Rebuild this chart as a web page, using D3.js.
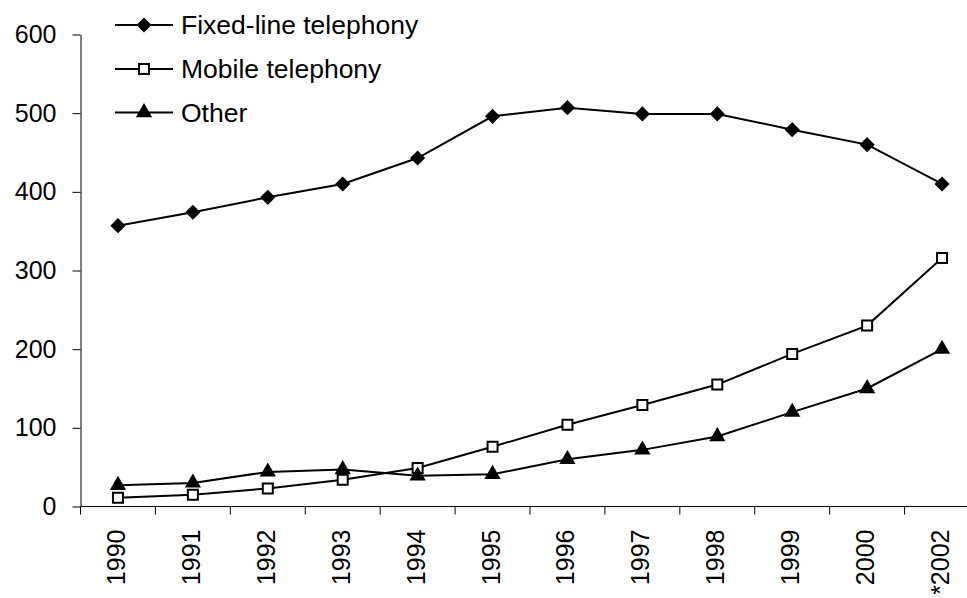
<!DOCTYPE html>
<html>
<head>
<meta charset="utf-8">
<script src="https://cdn.jsdelivr.net/npm/d3@7"></script>
<style>
  html, body { margin: 0; padding: 0; background: #fff; overflow: hidden; }
  svg { display: block; }
  text { font-family: "Liberation Sans", Arial, sans-serif; fill: #000; }
</style>
</head>
<body>
<svg id="chart" width="967" height="598"></svg>
<script>
const categories = ["1990","1991","1992","1993","1994","1995","1996","1997","1998","1999","2000","*2002"];
const fixedLine = [357, 374, 393, 410, 443, 496, 507, 499, 499, 479, 460, 410];
const mobile    = [11, 15, 23, 34, 49, 76, 104, 129, 155, 194, 230, 316];
const other     = [27, 30, 44, 47, 39, 41, 60, 72, 89, 120, 150, 200];
const yTicks = [0, 100, 200, 300, 400, 500, 600];
const seriesNames = ["Fixed-line telephony", "Mobile telephony", "Other"];

const series = [
  { name: seriesNames[0], values: fixedLine, symbol: d3.symbolSquare,  rot: 45, size: 115, fill: "#000", stroke: "none" },
  { name: seriesNames[1], values: mobile,    symbol: d3.symbolSquare,  rot: 0,  size: 100, fill: "#fff", stroke: "#000" },
  { name: seriesNames[2], values: other,     symbol: d3.symbolTriangle, rot: 0, size: 115, fill: "#000", stroke: "none" }
];

const svg = d3.select("#chart");
const mLeft = 80.5, mRight = 979.5, mTop = 34.5, mBottom = 506.5;
const fs = 25;

const x = d3.scaleBand().domain(categories).range([mLeft, mRight]).padding(0);
const y = d3.scaleLinear().domain([0, 600]).range([mBottom, mTop]);

// Y axis
const yAxis = svg.append("g").attr("transform", `translate(${mLeft},0)`)
  .call(d3.axisLeft(y).tickValues(yTicks).tickSize(8).tickPadding(16).tickSizeOuter(0));
yAxis.selectAll("path, line").attr("stroke", "#000").attr("stroke-width", 1);
yAxis.selectAll("text").style("font-size", fs + "px").attr("font-family", null);

// X axis line + boundary ticks
const xg = svg.append("g");
xg.append("line").attr("x1", x.range()[0]).attr("x2", x.range()[1])
  .attr("y1", y(0)).attr("y2", y(0)).attr("stroke", "#000").attr("stroke-width", 1);
const bounds = categories.map(c => x(c)).concat([x(categories[categories.length - 1]) + x.step()]);
xg.selectAll("line.tick").data(bounds).enter().append("line")
  .attr("class", "tick")
  .attr("x1", d => d).attr("x2", d => d)
  .attr("y1", y(0)).attr("y2", y(0) + 8)
  .attr("stroke", "#000").attr("stroke-width", 1);
xg.selectAll("text.xl").data(categories).enter().append("text")
  .attr("class", "xl")
  .attr("transform", d => `translate(${x(d) + x.bandwidth() / 2},${y(0) + 23}) rotate(-90)`)
  .attr("text-anchor", "end")
  .attr("dy", "0.28em")
  .style("font-size", fs + "px")
  .text(d => d);

// Lines and markers
const line = d3.line()
  .x((d, i) => x(categories[i]) + x.bandwidth() / 2)
  .y(d => y(d));

series.forEach(s => {
  svg.append("path").datum(s.values)
    .attr("d", line).attr("fill", "none")
    .attr("stroke", "#000").attr("stroke-width", 2);
  svg.append("g").selectAll("path").data(s.values).enter().append("path")
    .attr("d", d3.symbol().type(s.symbol).size(s.size))
    .attr("transform", (d, i) => `translate(${x(categories[i]) + x.bandwidth() / 2},${y(d)}) rotate(${s.rot})`)
    .attr("fill", s.fill).attr("stroke", s.stroke).attr("stroke-width", 2);
});

// Legend
const legendY = [25, 69, 112.5];
const lg = svg.append("g");
series.forEach((s, i) => {
  const g = lg.append("g").attr("transform", `translate(0,${legendY[i]})`);
  g.append("line").attr("x1", 115).attr("x2", 173).attr("y1", 0).attr("y2", 0)
    .attr("stroke", "#000").attr("stroke-width", 2);
  g.append("path").attr("d", d3.symbol().type(s.symbol).size(s.size))
    .attr("transform", `translate(144,0) rotate(${s.rot})`)
    .attr("fill", s.fill).attr("stroke", s.stroke).attr("stroke-width", 2);
  g.append("text").attr("x", 181).attr("dy", "0.35em")
    .style("font-size", "26.5px").text(s.name);
});
</script>
</body>
</html>
